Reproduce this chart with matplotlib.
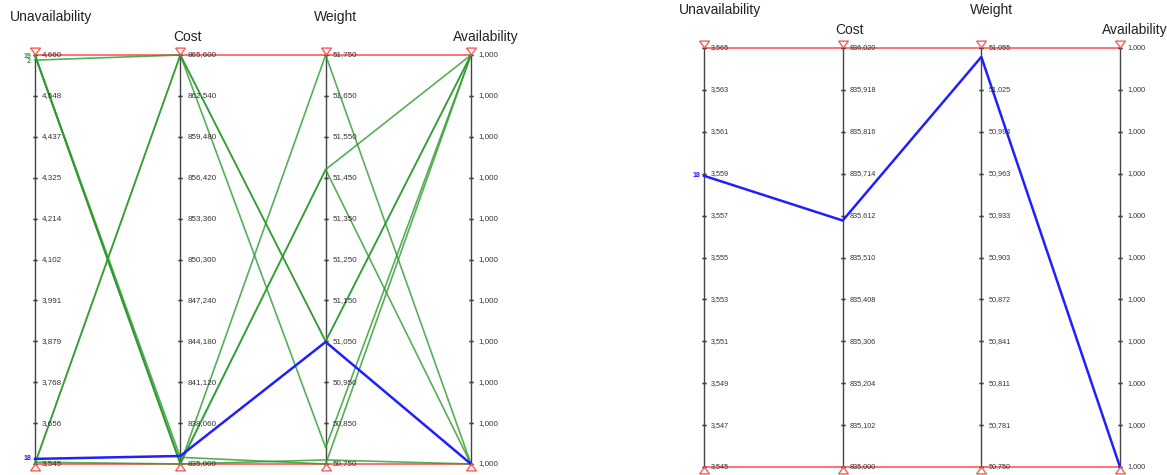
from __future__ import annotations

import matplotlib

matplotlib.use("Agg")
import matplotlib.pyplot as plt
import matplotlib.transforms as mtransforms

plt.rcParams["font.family"] = ["Liberation Sans", "DejaVu Sans"]

AXIS_NAMES = ["Unavailability", "Cost", "Weight", "Availability"]

# ---- left panel: every solution ------------------------------------------
LEFT_RANGES = [(3.545, 4.660), (835.0, 865.6), (50.75, 51.75), (0.99999, 1.0)]
LEFT_TICK_LABELS = [
    ["4,660", "4,548", "4,437", "4,325", "4,214", "4,102", "3,991", "3,879", "3,768", "3,656", "3,545"],
    ["865,600", "862,540", "859,480", "856,420", "853,360", "850,300", "847,240", "844,180", "841,120", "838,060", "835,000"],
    ["51,750", "51,650", "51,550", "51,450", "51,350", "51,250", "51,150", "51,050", "50,950", "50,850", "50,750"],
    ["1,000"] * 11,
]
GREEN_UNAV = [4.660, 4.659, 4.658, 4.660, 4.646, 3.545, 3.547, 3.550]
GREEN_COST = [835.0, 835.0, 835.1, 835.5, 865.6, 865.6, 865.6, 835.0]
GREEN_WEIGHT = [51.75, 51.47, 51.47, 50.75, 51.05, 51.05, 50.79, 50.76]
GREEN_AVAIL = [0.99999, 1.0, 0.99999, 1.0, 1.0, 1.0, 1.0, 0.99999]
GREEN_IDS = ["19", "2"]

# ---- selected solution (blue) ----------------------------------------------
SELECTED_ID = "18"
SELECTED = [3.5589, 835.600, 51.0485, 0.99999]

# ---- right panel: zoom on the selected solution ---------------------------
RIGHT_RANGES = [(3.545, 3.565), (835.0, 836.02), (50.75, 51.055), (0.99999, 1.0)]
RIGHT_TICK_LABELS = [
    ["3,565", "3,563", "3,561", "3,559", "3,557", "3,555", "3,553", "3,551", "3,549", "3,547", "3,545"],
    ["836,020", "835,918", "835,816", "835,714", "835,612", "835,510", "835,408", "835,306", "835,204", "835,102", "835,000"],
    ["51,055", "51,025", "50,994", "50,963", "50,933", "50,903", "50,872", "50,841", "50,811", "50,781", "50,750"],
    ["1,000"] * 11,
]

FIG_W, FIG_H = 1167, 475
GREEN = "#2e9a2e"
BLUE = "#1f1fff"
RED = "#ff5a5a"
TITLE_DX = [16, 7, 10, 15]
TRI_DOWN = [(-1.0, 0.7), (1.0, 0.7), (0.0, -0.7), (-1.0, 0.7)]
TRI_UP = [(-1.0, -0.7), (1.0, -0.7), (0.0, 0.7), (-1.0, -0.7)]


def _norm(values, ranges):
    return [(v - lo) / (hi - lo) for v, (lo, hi) in zip(values, ranges)]


def draw_panel(fig, x0, x1, y_top, y_bot, ranges, tick_labels, green_rows, label_size, show_ids):
    ax = fig.add_axes([x0 / FIG_W, (FIG_H - y_bot) / FIG_H, (x1 - x0) / FIG_W, (y_bot - y_top) / FIG_H])
    ax.set_xlim(0, 3)
    ax.set_ylim(0, 1)
    ax.axis("off")

    def shift(dx, dy):
        return mtransforms.offset_copy(ax.transData, fig=fig, x=dx, y=dy, units="dots")

    # red filter lines across the top and bottom
    ax.plot([0, 3], [1, 1], color=RED, lw=1.2, zorder=1, clip_on=False)
    ax.plot([0, 3], [0, 0], color=RED, lw=1.2, zorder=1, clip_on=False)

    for i, name in enumerate(AXIS_NAMES):
        ax.plot([i, i], [0, 1], color="#444444", lw=1.0, zorder=2, clip_on=False)
        ticks = [1 - k / 10 for k in range(11)]
        for t, lab in zip(ticks, tick_labels[i]):
            ax.plot([i, i], [t, t], color="#444444", lw=1.0, transform=shift(0, 0),
                    marker="_", ms=3, clip_on=False)
            ax.text(i, t, lab, transform=shift(7, 0), fontsize=label_size, color="#333333",
                    ha="left", va="center", zorder=5)
        dy = 38 if i % 2 == 0 else 18
        ax.text(i, 1, name, transform=shift(TITLE_DX[i], dy), fontsize=10, color="#222222",
                ha="center", va="center", clip_on=False)
        ax.plot(i, 1, marker=TRI_DOWN, ms=7, mfc="none", mec=RED, mew=1.0,
                transform=shift(0, 4), clip_on=False, zorder=6)
        ax.plot(i, 0, marker=TRI_UP, ms=7, mfc="none", mec=RED, mew=1.0,
                transform=shift(0, -3), clip_on=False, zorder=6)

    for row in green_rows:
        ax.plot(range(4), _norm(row, ranges), color=GREEN, lw=1.2, alpha=0.8, zorder=3, clip_on=False)

    sel = _norm(SELECTED, ranges)
    ax.plot(range(4), sel, color=BLUE, lw=1.8, zorder=4, clip_on=False)
    ax.text(0, sel[0], SELECTED_ID, transform=shift(-4, 0), fontsize=5, color=BLUE,
            ha="right", va="center", fontweight="bold")

    if show_ids:
        for k, lab in enumerate(GREEN_IDS):
            ax.text(0, 1, lab, transform=shift(-4, -2 - 5 * k), fontsize=5, color=GREEN,
                    ha="right", va="center", fontweight="bold")
    return ax


fig = plt.figure(figsize=(FIG_W / 100, FIG_H / 100), dpi=100)
fig.patch.set_facecolor("white")

green_rows = list(zip(GREEN_UNAV, GREEN_COST, GREEN_WEIGHT, GREEN_AVAIL))
draw_panel(fig, 35, 471, 55, 464, LEFT_RANGES, LEFT_TICK_LABELS, green_rows, 5.8, True)
draw_panel(fig, 704, 1120, 48, 467, RIGHT_RANGES, RIGHT_TICK_LABELS, [], 5.2, False)

fig.savefig("out.png", dpi=100)
